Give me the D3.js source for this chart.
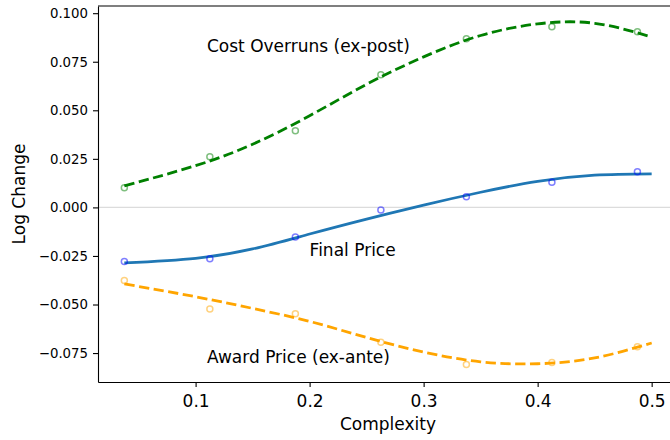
<!DOCTYPE html>
<html>
<head>
<meta charset="utf-8">
<script src="https://cdn.jsdelivr.net/npm/d3@7"></script>
<style>
  body { margin: 0; background: #fff; }
  svg { display: block; font-family: "DejaVu Sans", sans-serif; }
</style>
</head>
<body>
<div id="chart"></div>
<script>
// binned scatter points (complexity bins)
var complexity = [0.0375, 0.1125, 0.1875, 0.2625, 0.3375, 0.4125, 0.4875]
var costOverrunPts = [0.0101, 0.0261, 0.0395, 0.0683, 0.0868, 0.0930, 0.0904]
var finalPricePts = [-0.0278, -0.0264, -0.0152, -0.0013, 0.0055, 0.0129, 0.0184]
var awardPricePts = [-0.0377, -0.0523, -0.0547, -0.0694, -0.0809, -0.0799, -0.0718]

var fitX = [0.0375, 0.1, 0.15, 0.2, 0.25, 0.3, 0.35, 0.4, 0.45, 0.5]
var costOverrunFit = [0.0111, 0.0215, 0.0325, 0.0472, 0.0634, 0.0775, 0.0885, 0.0945, 0.0948, 0.0877]
var finalPriceFit = [-0.0286, -0.0262, -0.0214, -0.0137, -0.0060, 0.0012, 0.0078, 0.0134, 0.0166, 0.0173]
var awardPriceFit = [-0.0394, -0.0460, -0.0520, -0.0587, -0.0670, -0.0745, -0.0795, -0.0805, -0.0775, -0.0698]

var xTicks = [0.1, 0.2, 0.3, 0.4, 0.5]
var yTicks = [-0.075, -0.05, -0.025, 0, 0.025, 0.05, 0.075, 0.1]

var labels = [
  {text: "Cost Overruns (ex-post)", x: 0.11, y: 0.08},
  {text: "Final Price", x: 0.2, y: -0.025},
  {text: "Award Price (ex-ante)", x: 0.11, y: -0.08}
]

var series = [
  {pts: costOverrunPts, fit: costOverrunFit, line: "#008000", dash: "10.3,4.5"},
  {pts: finalPricePts, fit: finalPriceFit, line: "#1f77b4", dash: null, marker: "#0000ff"},
  {pts: awardPricePts, fit: awardPriceFit, line: "#ffa500", dash: "10.3,4.5"}
]

draw()

function draw() {
  var width = 670
  var height = 440
  var mLeft = 98, mTop = 6, mRight = 678, mBottom = 382

  var svg = d3.select("#chart").append("svg")
      .attr("width", width)
      .attr("height", height)

  var x = d3.scaleLinear().domain([0.0144, 0.5231]).range([mLeft, mRight])
  var y = d3.scaleLinear().domain([-0.0899, 0.1037]).range([mBottom, mTop])

  // zero reference line
  svg.append("line")
      .attr("x1", mLeft).attr("x2", mRight)
      .attr("y1", y(0)).attr("y2", y(0))
      .attr("stroke", "#dcdcdc")
      .attr("stroke-width", 1.1)

  var line = d3.line()
      .curve(d3.curveNatural)
      .x(function(d) { return x(d[0]) })
      .y(function(d) { return y(d[1]) })

  series.forEach(function(s) {
    var pts = fitX.map(function(v, i) { return [v, s.fit[i]] })
    svg.append("path")
        .datum(pts)
        .attr("d", line)
        .attr("fill", "none")
        .attr("stroke", s.line)
        .attr("stroke-width", 2.8)
        .attr("stroke-dasharray", s.dash)
  })

  series.forEach(function(s) {
    svg.append("g").selectAll("circle")
        .data(complexity.map(function(v, i) { return [v, s.pts[i]] }))
        .enter().append("circle")
        .attr("cx", function(d) { return x(d[0]) })
        .attr("cy", function(d) { return y(d[1]) })
        .attr("r", 3)
        .attr("fill", "none")
        .attr("stroke", s.marker || s.line)
        .attr("stroke-opacity", 0.5)
        .attr("stroke-width", 1.5)
  })

  svg.selectAll(".lbl")
      .data(labels)
      .enter().append("text")
      .attr("class", "lbl")
      .attr("x", function(d) { return x(d.x) })
      .attr("y", function(d) { return y(d.y) })
      .attr("font-size", 17)
      .attr("fill", "#000")
      .text(function(d) { return d.text })

  // axes
  var xAxis = svg.append("g")
      .attr("transform", "translate(0," + mBottom + ")")
      .call(d3.axisBottom(x).tickValues(xTicks).tickFormat(d3.format(".1f"))
        .tickSize(5).tickSizeOuter(0).tickPadding(8))
  xAxis.selectAll("text").attr("font-size", 17).attr("fill", "#000").attr("font-family", "DejaVu Sans")

  var yAxis = svg.append("g")
      .attr("transform", "translate(" + mLeft + ",0)")
      .call(d3.axisLeft(y).tickValues(yTicks).tickFormat(d3.format(".3f"))
        .tickSize(5).tickSizeOuter(0).tickPadding(5))
  yAxis.selectAll("text").attr("font-size", 13.3).attr("fill", "#000").attr("font-family", "DejaVu Sans")

  svg.selectAll(".tick line").attr("stroke", "#000").attr("stroke-width", 1.1)
  svg.selectAll(".domain").attr("stroke", "#000").attr("stroke-width", 1.1)

  // top spine
  svg.append("line")
      .attr("x1", mLeft).attr("x2", mRight)
      .attr("y1", mTop).attr("y2", mTop)
      .attr("stroke", "#000").attr("stroke-width", 1.1)

  svg.append("text")
      .attr("x", (mLeft + mRight) / 2)
      .attr("y", 430)
      .attr("text-anchor", "middle")
      .attr("font-size", 17)
      .text("Complexity")

  svg.append("text")
      .attr("transform", "translate(25," + ((mTop + mBottom) / 2) + ") rotate(-90)")
      .attr("text-anchor", "middle")
      .attr("font-size", 17)
      .text("Log Change")
}
</script>
</body>
</html>
